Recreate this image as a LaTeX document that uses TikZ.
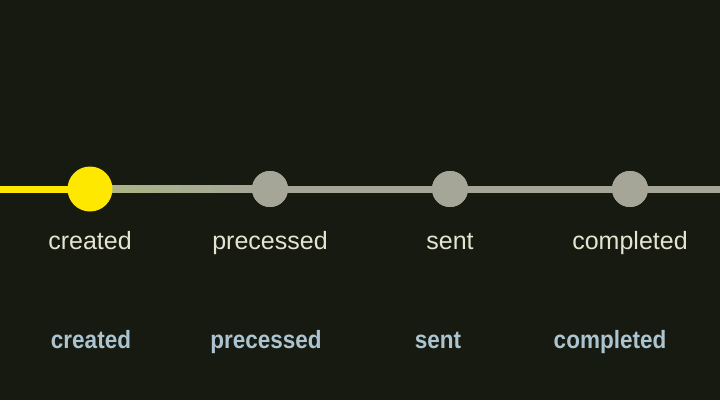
\documentclass[tikz,border=0pt]{standalone}
\usepackage{fontspec}
\setmainfont{Liberation Sans}
\newfontfamily\narrowfont[FakeStretch=0.9]{Liberation Sans}
\usepackage{tikz}
\usetikzlibrary{positioning}
\definecolor{bgdark}{RGB}{22,26,16}
\definecolor{stepyellow}{RGB}{255,232,0}
\definecolor{stepgray}{RGB}{165,165,152}
\definecolor{stepgreen}{RGB}{172,182,132}
\definecolor{toptext}{RGB}{228,228,208}
\definecolor{bottomtext}{RGB}{172,196,208}

\begin{document}
\begin{tikzpicture}
    [x=1pt,y=-1pt,
     done/.style={circle, fill=stepyellow, minimum size=45pt, inner sep=0pt},
     todo/.style={circle, fill=stepgray, minimum size=36pt, inner sep=0pt},
     toplabel/.style={anchor=base, inner sep=0pt, text=toptext, font=\fontsize{25}{29}\selectfont},
     bottomlabel/.style={anchor=base, inner sep=0pt, text=bottomtext, font=\narrowfont\bfseries\fontsize{25}{29}\selectfont},
     track/.style={line width=7pt, stepgray}]
    \useasboundingbox[fill=bgdark] (0,0) rectangle (720,400);
    \coordinate (left) at (0,189);
    \coordinate (right) at (720,189);
    \node[todo] (b) at (270,189) {};
    \node[todo] (c) at (450,189) {};
    \node[todo] (d) at (630,189) {};
    \draw[track, stepyellow] (left) -- (90,189);
    \shade[left color=stepgreen, right color=stepgray] (90,185.5) rectangle (270,192.5);
    \foreach \from/\to in {b/c, c/d, d/right}
    \draw[track] (\from) -- (\to);
    \node[todo] at (b) {};
    \node[todo] at (c) {};
    \node[todo] at (d) {};
    \node[done] (a) at (90,189) {};
    \node[toplabel] (la) at (90,249) {created};
    \node[toplabel] (lb) at (270,249) {precessed};
    \node[toplabel] (lc) at (450,249) {sent};
    \node[toplabel] (ld) at (630,249) {completed};
    \node[bottomlabel] at (91,348) {created};
    \node[bottomlabel] at (266,348) {precessed};
    \node[bottomlabel] at (438,348) {sent};
    \node[bottomlabel] at (610,348) {completed};
  \end{tikzpicture}
\end{document}
